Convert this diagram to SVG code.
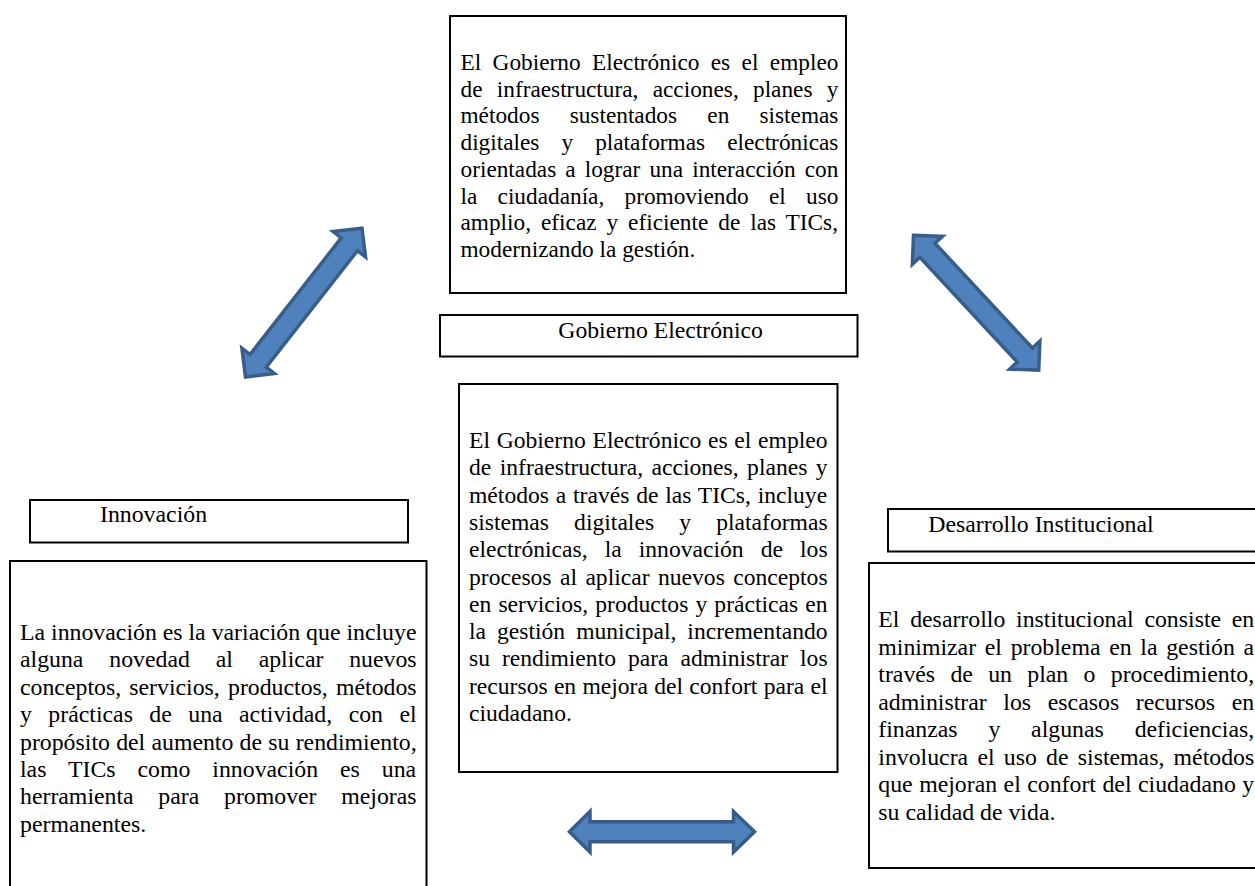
<svg xmlns="http://www.w3.org/2000/svg" width="1255" height="886" viewBox="0 0 1255 886">
<style>
.box{fill:#fff;stroke:#000;stroke-width:2}
text{font-family:"Liberation Serif","Times New Roman",serif;fill:#000}
.t1 text{font-size:23.3px}
.t2 text{font-size:23.6px}
.t3 text{font-size:23.8px}
.arrow{fill:#4F81BD;stroke:#385D8A;stroke-width:3.5;stroke-linejoin:miter}
</style>
<rect width="1255" height="886" fill="#fff"/>

<g id="connectors">
  <path class="arrow" transform="translate(245.5,377) rotate(-51.96)" d="M0,0 L20.5,-20.6 L20.5,-10.3 L168.5,-10.3 L168.5,-20.6 L189,0 L168.5,20.6 L168.5,10.3 L20.5,10.3 L20.5,20.6 Z"/>
  <path class="arrow" transform="translate(913.5,235.3) rotate(47.1)" d="M0,0 L20.5,-20.6 L20.5,-10.3 L163.5,-10.3 L163.5,-20.6 L184,0 L163.5,20.6 L163.5,10.3 L20.5,10.3 L20.5,20.6 Z"/>
  <path class="arrow" d="M569.5,831.7 L590,811.5 L590,821.7 L733.5,821.7 L733.5,811.5 L754.5,831.7 L733.5,852 L733.5,841.7 L590,841.7 L590,852 Z"/>
</g>

<g id="node-top">
  <rect class="box" x="450" y="16" width="396" height="277"/>
  <g class="t1">
    <text x="460.5" y="70" word-spacing="5.58">El Gobierno Electrónico es el empleo</text>
    <text x="460.5" y="96.7" word-spacing="8.45">de infraestructura, acciones, planes y</text>
    <text x="460.5" y="123.4" word-spacing="24.39">métodos sustentados en sistemas</text>
    <text x="460.5" y="150.1" word-spacing="16.21">digitales y plataformas electrónicas</text>
    <text x="460.5" y="176.8" word-spacing="3.26">orientadas a lograr una interacción con</text>
    <text x="460.5" y="203.5" word-spacing="14.42">la ciudadanía, promoviendo el uso</text>
    <text x="460.5" y="230.2" word-spacing="4.12">amplio, eficaz y eficiente de las TICs,</text>
    <text x="460.5" y="256.9">modernizando la gestión.</text>
  </g>
</g>

<g id="node-gobierno-label">
  <rect class="box" x="440" y="315" width="417.5" height="41.5"/>
  <text x="558.3" y="338.3" font-size="23.7">Gobierno Electrónico</text>
</g>

<g id="node-center">
  <rect class="box" x="459" y="384" width="378.5" height="388"/>
  <g class="t2">
    <text x="469" y="448" word-spacing="0.82">El Gobierno Electrónico es el empleo</text>
    <text x="469" y="475.3" word-spacing="2.52">de infraestructura, acciones, planes y</text>
    <text x="469" y="502.6" word-spacing="0.9">métodos a través de las TICs, incluye</text>
    <text x="469" y="529.9" word-spacing="19.27">sistemas digitales y plataformas</text>
    <text x="469" y="557.2" word-spacing="11.19">electrónicas, la innovación de los</text>
    <text x="469" y="584.5" word-spacing="2.51">procesos al aplicar nuevos conceptos</text>
    <text x="469" y="611.8" word-spacing="1.22">en servicios, productos y prácticas en</text>
    <text x="469" y="639.1" word-spacing="5.08">la gestión municipal, incrementando</text>
    <text x="469" y="666.4" word-spacing="6.1">su rendimiento para administrar los</text>
    <text x="469" y="693.7" word-spacing="0.37">recursos en mejora del confort para el</text>
    <text x="469" y="721">ciudadano.</text>
  </g>
</g>

<g id="node-innovacion-label">
  <rect class="box" x="30" y="500" width="378" height="42.5"/>
  <text x="100" y="522.3" font-size="23.8">Innovación</text>
</g>

<g id="node-innovacion">
  <rect class="box" x="10" y="561" width="416.5" height="340"/>
  <g class="t3">
    <text x="20" y="640">La innovación es la variación que incluye</text>
    <text x="20" y="667.4" word-spacing="19.86">alguna novedad al aplicar nuevos</text>
    <text x="20" y="694.8" word-spacing="2.23">conceptos, servicios, productos, métodos</text>
    <text x="20" y="722.2" word-spacing="10.49">y prácticas de una actividad, con el</text>
    <text x="20" y="749.6" word-spacing="0.28">propósito del aumento de su rendimiento,</text>
    <text x="20" y="777" word-spacing="16.01">las TICs como innovación es una</text>
    <text x="20" y="804.4" word-spacing="18.78">herramienta para promover mejoras</text>
    <text x="20" y="831.8">permanentes.</text>
  </g>
</g>

<g id="node-desarrollo-label">
  <rect class="box" x="888" y="509" width="400" height="42.5"/>
  <text x="928.3" y="531.7" font-size="23.8">Desarrollo Institucional</text>
</g>

<g id="node-desarrollo">
  <rect class="box" x="869" y="563" width="400" height="305"/>
  <g class="t3">
    <text x="878.3" y="627.3" word-spacing="4.77">El desarrollo institucional consiste en</text>
    <text x="878.3" y="654.8" word-spacing="2.73">minimizar el problema en la gestión a</text>
    <text x="878.3" y="682.3" word-spacing="9.36">través de un plan o procedimiento,</text>
    <text x="878.3" y="709.8" word-spacing="10.72">administrar los escasos recursos en</text>
    <text x="878.3" y="737.3" word-spacing="24.87">finanzas y algunas deficiencias,</text>
    <text x="878.3" y="764.8" word-spacing="3.28">involucra el uso de sistemas, métodos</text>
    <text x="878.3" y="792.3" word-spacing="0.54">que mejoran el confort del ciudadano y</text>
    <text x="878.3" y="819.8">su calidad de vida.</text>
  </g>
</g>
</svg>
